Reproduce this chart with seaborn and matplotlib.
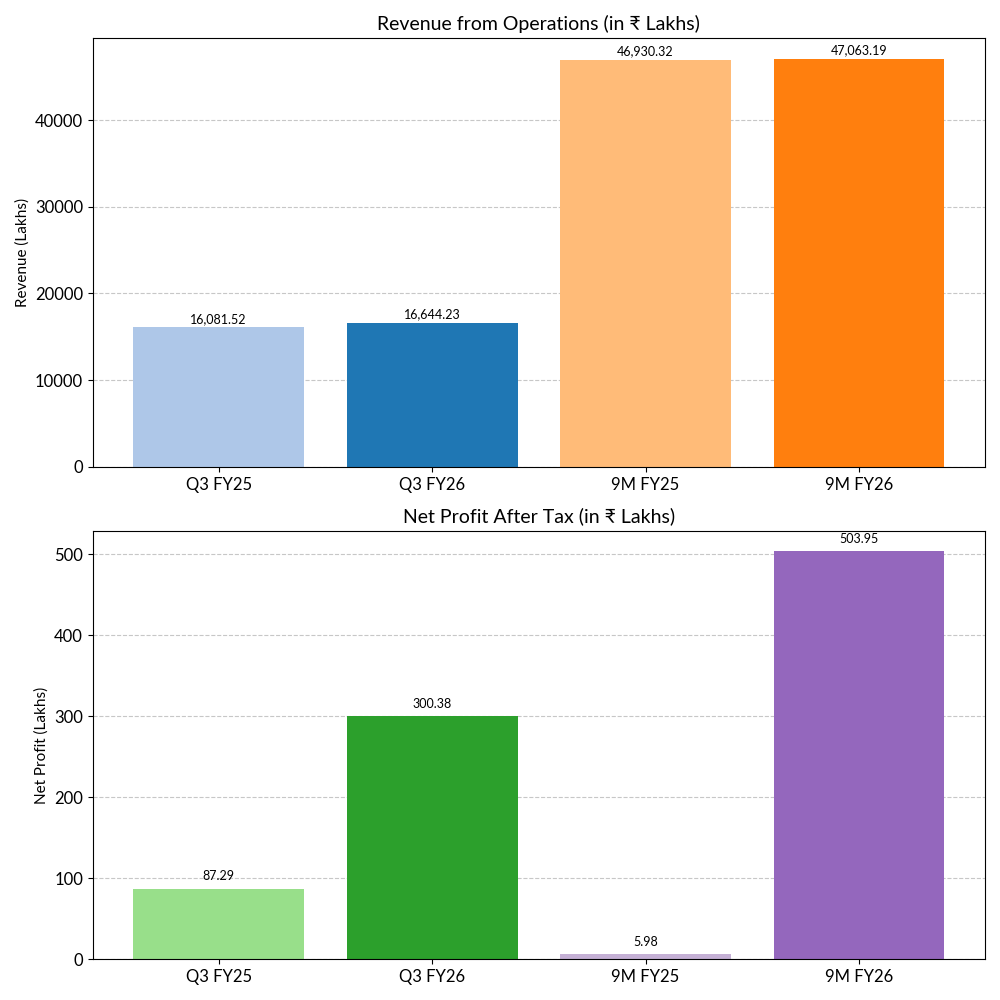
import pandas as pd
import seaborn as sns
import matplotlib.pyplot as plt

# Data
periods = ['Q3 FY25', 'Q3 FY26', '9M FY25', '9M FY26']
revenue = [16081.52, 16644.23, 46930.32, 47063.19]
net_profit = [87.29, 300.38, 5.98, 503.95]

revenue_colors = ['#aec7e8', '#1f77b4', '#ffbb78', '#ff7f0e']
profit_colors = ['#98df8a', '#2ca02c', '#c5b0d5', '#9467bd']

plt.rcParams['font.family'] = ['Lato', 'DejaVu Sans']

df_rev = pd.DataFrame({'period': periods, 'value': revenue})
df_np = pd.DataFrame({'period': periods, 'value': net_profit})

fig, axes = plt.subplots(2, 1, figsize=(10, 10))

BAR_W = 0.8


def draw_panel(ax, df, colors, title, ylabel, offset):
    sns.barplot(data=df, x='period', y='value', hue='period', palette=colors,
                legend=False, width=BAR_W, saturation=1, ax=ax)
    # matplotlib-style x margins instead of seaborn's tight categorical limits
    n = len(df)
    lo, hi = -BAR_W / 2, n - 1 + BAR_W / 2
    pad = (hi - lo) * 0.05
    ax.set_xlim(lo - pad, hi + pad)
    ax.set_title(title, fontsize=14)
    ax.set_ylabel(ylabel, fontsize=11)
    ax.set_xlabel('')
    ax.tick_params(axis='both', labelsize=12)
    ax.grid(axis='y', linestyle='--', alpha=0.7)
    ax.set_axisbelow(True)
    for i, v in enumerate(df['value']):
        ax.text(i, v + offset, f'{v:,.2f}', ha='center', va='bottom', fontsize=9)


draw_panel(axes[0], df_rev, revenue_colors,
           'Revenue from Operations (in ₹ Lakhs)', 'Revenue (Lakhs)', 300)
draw_panel(axes[1], df_np, profit_colors,
           'Net Profit After Tax (in ₹ Lakhs)', 'Net Profit (Lakhs)', 8)

plt.tight_layout()
plt.savefig('out.png', dpi=100)
